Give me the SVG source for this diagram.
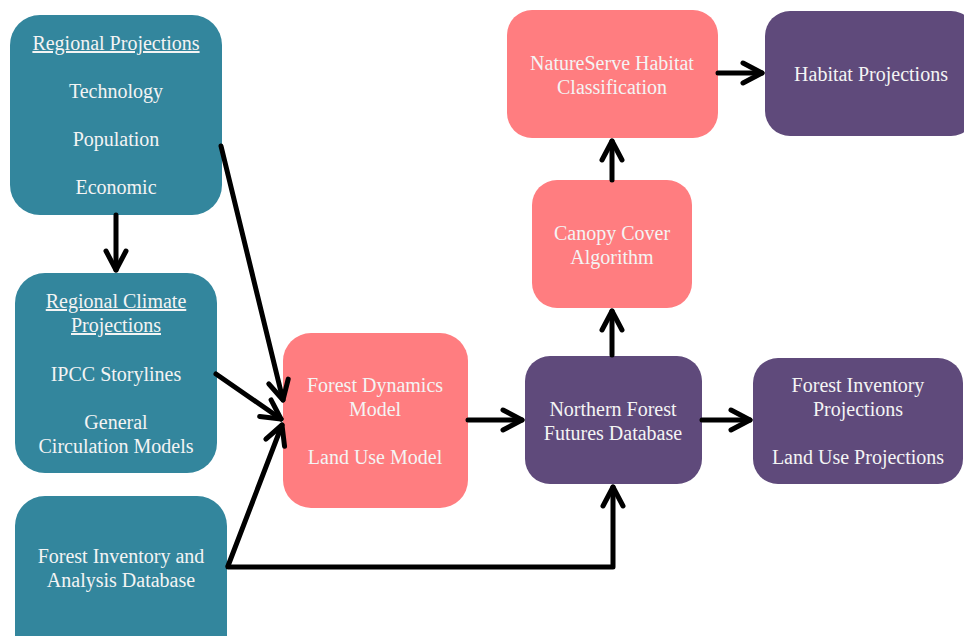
<svg xmlns="http://www.w3.org/2000/svg" width="964" height="636" viewBox="0 0 964 636">
<defs>
<style>
.teal{fill:#33869d}
.pink{fill:#ff7d80}
.purple{fill:#5f4a7b}
.t{font-family:"Liberation Serif","Times New Roman",serif;font-size:20px;fill:#f4f4f4;text-anchor:middle}
.u{text-decoration:underline}
.c{fill:none;stroke:#000;stroke-width:5;stroke-linecap:round;stroke-linejoin:round;marker-end:url(#ah)}
</style>
<marker id="ah" markerUnits="userSpaceOnUse" viewBox="-24 -14 28 28" markerWidth="28" markerHeight="28" refX="0" refY="0" orient="auto" overflow="visible">
<path d="M-19,-10 L0,0 L-19,10" fill="none" stroke="#000" stroke-width="5" stroke-linecap="round" stroke-linejoin="round"/>
</marker>
</defs>
<rect width="964" height="636" fill="#fff"/>
<g id="regional-projections">
<rect class="teal" x="10" y="15" width="212" height="200" rx="30"/>
<text class="t u" x="116" y="50">Regional Projections</text>
<text class="t" x="116" y="98">Technology</text>
<text class="t" x="116" y="146">Population</text>
<text class="t" x="116" y="194">Economic</text>
</g>
<g id="regional-climate-projections">
<rect class="teal" x="15" y="273" width="202" height="200" rx="30"/>
<text class="t u" x="116" y="308">Regional Climate</text>
<text class="t u" x="116" y="332">Projections</text>
<text class="t" x="116" y="381">IPCC Storylines</text>
<text class="t" x="116" y="429">General</text>
<text class="t" x="116" y="453">Circulation Models</text>
</g>
<g id="fia-database">
<rect class="teal" x="15" y="496" width="212" height="170" rx="30"/>
<text class="t" x="121" y="563">Forest Inventory and</text>
<text class="t" x="121" y="587">Analysis Database</text>
</g>
<g id="forest-dynamics-model">
<rect class="pink" x="283" y="333" width="185" height="175" rx="28"/>
<text class="t" x="375" y="392">Forest Dynamics</text>
<text class="t" x="375" y="416">Model</text>
<text class="t" x="375" y="464">Land Use Model</text>
</g>
<g id="nffd">
<rect class="purple" x="525" y="356" width="177" height="128" rx="25"/>
<text class="t" x="613" y="416">Northern Forest</text>
<text class="t" x="613" y="440">Futures Database</text>
</g>
<g id="canopy-cover">
<rect class="pink" x="532" y="180" width="160" height="128" rx="25"/>
<text class="t" x="612" y="240">Canopy Cover</text>
<text class="t" x="612" y="264">Algorithm</text>
</g>
<g id="natureserve">
<rect class="pink" x="507" y="10" width="211" height="128" rx="25"/>
<text class="t" x="612" y="70">NatureServe Habitat</text>
<text class="t" x="612" y="94">Classification</text>
</g>
<g id="habitat-projections">
<rect class="purple" x="765" y="11" width="211" height="125" rx="25"/>
<text class="t" x="871" y="81">Habitat Projections</text>
</g>
<g id="forest-inventory-projections">
<rect class="purple" x="753" y="358" width="210" height="126" rx="25"/>
<text class="t" x="858" y="392">Forest Inventory</text>
<text class="t" x="858" y="416">Projections</text>
<text class="t" x="858" y="464">Land Use Projections</text>
</g>
<g id="connectors">
<path class="c" d="M116,215 L116,270"/>
<path class="c" d="M221,146 L283,400"/>
<path class="c" d="M216,374 L281,419"/>
<path class="c" d="M228,566 L282,425"/>
<path class="c" d="M228,567 L613,567 L613,487"/>
<path class="c" d="M468,420 L522,420"/>
<path class="c" d="M612,355 L612,311"/>
<path class="c" d="M612,180 L612,141"/>
<path class="c" d="M718,73 L762,73"/>
<path class="c" d="M702,420 L750,420"/>
</g>
</svg>
